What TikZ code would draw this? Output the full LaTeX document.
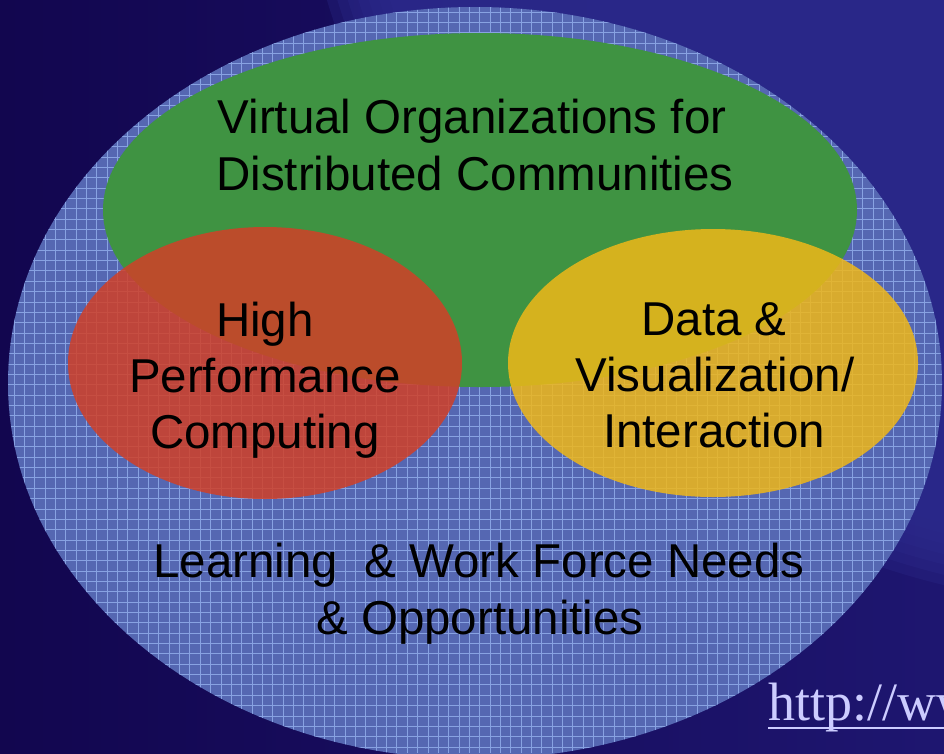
\documentclass[tikz,border=0pt]{standalone}
\usepackage{fontspec}
\setmainfont{Liberation Sans}
\newfontfamily\urlfont{Liberation Serif}
\definecolor{bgdark}{HTML}{12064F}
\definecolor{bgmid}{HTML}{1E1670}
\definecolor{bglight}{HTML}{2C2A8C}
\definecolor{gridbase}{HTML}{5567B2}
\definecolor{gridline}{HTML}{88A2E2}
\definecolor{vogreen}{HTML}{3F9342}
\definecolor{hpcred}{HTML}{D14027}
\definecolor{datayellow}{HTML}{F0B818}
\definecolor{urltext}{HTML}{CCCCFF}
\begin{document}
\begin{tikzpicture}[x=1pt,y=-1pt,
  lbl/.style={font=\fontsize{47.5}{56}\selectfont, text=black, anchor=base, inner sep=0pt},
  gridrule/.style={draw=gridline, line width=0.95pt},
  overlay fill/.style={fill opacity=0.85}]
\useasboundingbox (0,0) rectangle (944,753);
\clip (0,0) rectangle (944,753);

% slide background with a soft-edged lighter disc in the upper right
\shade[left color=bgdark, right color=bgmid] (0,0) rectangle (944,753);
\foreach \r in {860,850,840,830,820,810,800}
  \fill[bglight, fill opacity=0.3] (1150,-250) circle [radius=\r];

% outer set: gridded ellipse
\fill[gridbase] (475,383) ellipse [x radius=467, y radius=376];
\begin{scope}
  \clip (475,383) ellipse [x radius=467, y radius=376];
  \foreach \i in {0,...,92}
    \draw[gridrule] ({\i*10.35+3.65},0) -- ({\i*10.35+3.65},753);
  \foreach \j in {0,...,73}
    \draw[gridrule] (0,{\j*10.35+1.85}) -- (944,{\j*10.35+1.85});
\end{scope}

% inner sets
\fill[vogreen] (480,210) ellipse [x radius=377, y radius=177];
\fill[hpcred, overlay fill] (265,363) ellipse [x radius=197, y radius=136];
\fill[datayellow, overlay fill] (713,363) ellipse [x radius=205, y radius=134];

% labels
\node[lbl] (vo1) at (472,133) {Virtual Organizations for};
\node[lbl] (vo2) at (475,190) {Distributed Communities};

\node[lbl] (hpc1) at (265,336) {High};
\node[lbl] (hpc2) at (265,392) {Performance};
\node[lbl] (hpc3) at (265,448) {Computing};

\node[lbl] (dv1) at (714,335) {Data \&};
\node[lbl] (dv2) at (715,391) {Visualization/};
\node[lbl] (dv3) at (714,447) {Interaction};

\node[lbl] (lw1) at (479,577) {Learning \ \& Work Force Needs};
\node[lbl] (lw2) at (480,634) {\& Opportunities};

% link at the foot of the slide
\node[anchor=base west, inner sep=0pt, text=urltext,
      font=\urlfont\fontsize{54}{60}\selectfont] (url) at (768,720) {http://ww};
\draw[urltext, line width=2.5pt] ([yshift=-8pt]url.base west) -- ([yshift=-8pt, xshift=60pt]url.base east);
\end{tikzpicture}
\end{document}
